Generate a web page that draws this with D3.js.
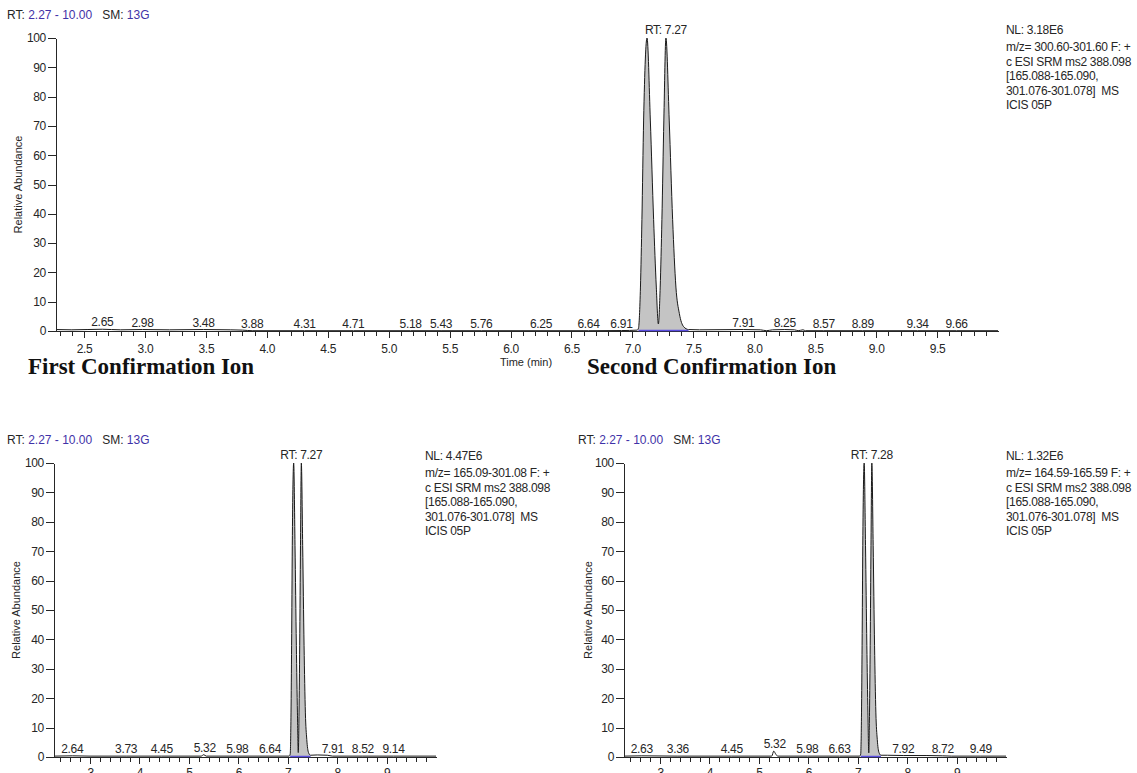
<!DOCTYPE html>
<html>
<head>
<meta charset="utf-8">
<script src="https://cdn.jsdelivr.net/npm/d3@7"></script>
<style>
  body { margin: 0; background: #fff; }
  svg { display: block; font-family: "Liberation Sans", Arial, sans-serif; }
</style>
</head>
<body>
<svg id="chart" width="1137" height="773"></svg>
<script>
// ---- values ----
const rtRange = '2.27 - 10.00';
const smoothing = '13G';
const timeDomain = [2.27, 10.0];
const yTicks = [0, 10, 20, 30, 40, 50, 60, 70, 80, 90, 100];
const topXTicks = [2.5, 3.0, 3.5, 4.0, 4.5, 5.0, 5.5, 6.0, 6.5, 7.0, 7.5, 8.0, 8.5, 9.0, 9.5];
const bottomXTicks = [3, 4, 5, 6, 7, 8, 9];

// [time (min), relative abundance %]
const topTrace = [
  [2.27, 0.5], [2.40, 0.4], [2.65, 0.6], [2.80, 0.4], [2.98, 0.5], [3.20, 0.4], [3.48, 0.5],
  [3.70, 0.4], [3.80, 0.3], [3.88, 0.1], [4.31, 0.1], [4.71, 0.1], [5.18, 0.1], [5.43, 0.1],
  [5.76, 0.1], [6.25, 0.1], [6.64, 0.1], [6.91, 0.15], [7.04, 0.3],
  [7.05, 1], [7.066, 15], [7.078, 38], [7.092, 72], [7.12, 100], [7.147, 72], [7.174, 38],
  [7.196, 15], [7.213, 2.4], [7.228, 15], [7.242, 38], [7.258, 72], [7.275, 100], [7.302, 72],
  [7.33, 38], [7.357, 15], [7.385, 6], [7.42, 1.5], [7.46, 0.5],
  [7.55, 0.4], [7.91, 0.5], [8.05, 0.4], [8.10, 0.1], [8.15, 0.4], [8.25, 0.5], [8.33, 0.4],
  [8.36, 0.1], [8.40, 0.4], [8.42, 0.1], [8.57, 0.1], [8.89, 0.1], [9.34, 0.1], [9.66, 0.1], [10.0, 0.1]
];
const bottomLeftTrace = [
  [2.27, 0.3], [2.64, 0.4], [3.00, 0.3], [3.73, 0.3], [4.45, 0.3], [5.25, 0.3], [5.30, 0.8],
  [5.35, 0.3], [5.98, 0.3], [6.64, 0.3], [7.03, 0.3],
  [7.05, 1], [7.066, 15], [7.078, 38], [7.092, 72], [7.12, 100], [7.147, 72], [7.174, 38],
  [7.196, 15], [7.213, 1.5], [7.228, 15], [7.242, 38], [7.258, 72], [7.275, 100], [7.302, 72],
  [7.33, 38], [7.357, 15], [7.385, 6], [7.42, 1.5], [7.46, 0.6],
  [7.60, 0.7], [7.80, 0.6], [7.91, 0.3], [8.52, 0.3], [9.14, 0.3], [10.0, 0.3]
];
const bottomRightTrace = [
  [2.27, 0.3], [2.63, 0.4], [3.36, 0.3], [4.45, 0.3], [5.26, 0.3], [5.30, 2.0], [5.34, 1.0],
  [5.38, 0.3], [5.98, 0.3], [6.63, 0.3], [7.04, 0.3],
  [7.06, 1], [7.076, 15], [7.088, 38], [7.102, 72], [7.13, 100], [7.157, 72], [7.184, 38],
  [7.206, 15], [7.223, 1.4], [7.238, 15], [7.252, 38], [7.268, 72], [7.285, 100], [7.312, 72],
  [7.34, 38], [7.367, 15], [7.395, 6], [7.43, 1.5], [7.47, 0.6],
  [7.60, 0.6], [7.92, 0.5], [8.40, 0.5], [8.72, 0.4], [8.90, 0.3], [9.49, 0.3], [10.0, 0.3]
];

const topPeakLabels = [2.65, 2.98, 3.48, 3.88, 4.31, 4.71, 5.18, 5.43, 5.76, 6.25, 6.64, 6.91, 7.91, 8.25, 8.57, 8.89, 9.34, 9.66];
const bottomLeftPeakLabels = [2.64, 3.73, 4.45, 5.32, 5.98, 6.64, 7.91, 8.52, 9.14];
const bottomRightPeakLabels = [2.63, 3.36, 4.45, 5.32, 5.98, 6.63, 7.92, 8.72, 9.49];

// integration limits of the main peak pair (purple baseline)
const topLimits = [7.05, 7.46];
const bottomLeftLimits = [7.05, 7.46];
const bottomRightLimits = [7.06, 7.47];

const topRT = 'RT: 7.27';
const bottomLeftRT = 'RT: 7.27';
const bottomRightRT = 'RT: 7.28';

const topInfo = ['NL: 3.18E6', 'm/z= 300.60-301.60 F: +', 'c ESI SRM ms2 388.098', '[165.088-165.090,', '301.076-301.078]  MS', 'ICIS 05P'];
const bottomLeftInfo = ['NL: 4.47E6', 'm/z= 165.09-301.08 F: +', 'c ESI SRM ms2 388.098', '[165.088-165.090,', '301.076-301.078]  MS', 'ICIS 05P'];
const bottomRightInfo = ['NL: 1.32E6', 'm/z= 164.59-165.59 F: +', 'c ESI SRM ms2 388.098', '[165.088-165.090,', '301.076-301.078]  MS', 'ICIS 05P'];

const svg = d3.select('#chart');
const ink = '#262626';
const purple = '#3f32a8';
const tight = '-0.3px';

function drawPanel(p) {
  const x = d3.scaleLinear().domain(timeDomain).range([p.left, p.right]);
  const y = d3.scaleLinear().domain([0, 100]).range([p.bottom, p.top]);
  const g = svg.append('g');

  // header
  const head = g.append('text').attr('x', p.hx).attr('y', p.hy)
    .attr('font-size', 12).attr('fill', ink).style('white-space', 'pre');
  head.append('tspan').text('RT: ');
  head.append('tspan').attr('fill', purple).text(rtRange);
  head.append('tspan').text('   SM: ');
  head.append('tspan').attr('fill', purple).text(smoothing);

  // filled peak between integration limits
  const inPeak = p.trace.filter(d => d[0] >= p.limits[0] && d[0] <= p.limits[1]);
  g.append('path')
    .datum(inPeak)
    .attr('fill', '#c4c4c4')
    .attr('d', d3.area().x(d => x(d[0])).y0(y(0)).y1(d => y(d[1])).curve(d3.curveMonotoneX));

  // trace
  g.append('path')
    .datum(p.trace)
    .attr('fill', 'none')
    .attr('stroke', '#1a1a1a')
    .attr('stroke-width', 1)
    .attr('d', d3.line().x(d => x(d[0])).y(d => y(d[1])).curve(d3.curveMonotoneX));

  // axes
  const yAxis = g.append('g').attr('transform', `translate(${p.left},0)`)
    .call(d3.axisLeft(y).tickValues(yTicks).tickSize(8).tickPadding(2).tickSizeOuter(0));
  const minor = g.append('g').attr('transform', `translate(0,${p.bottom})`)
    .call(d3.axisBottom(x).tickValues(p.minor).tickSize(5).tickFormat('').tickSizeOuter(0));
  const major = g.append('g').attr('transform', `translate(0,${p.bottom})`)
    .call(d3.axisBottom(x).tickValues(p.major).tickSize(7).tickPadding(p.labelPad)
      .tickFormat(p.fmt).tickSizeOuter(0));
  [yAxis, minor, major].forEach(a => {
    a.selectAll('path, line').attr('stroke', ink).attr('shape-rendering', 'crispEdges');
    a.selectAll('text').attr('fill', ink).attr('font-size', 12)
      .attr('letter-spacing', tight)
      .attr('font-family', '"Liberation Sans", Arial, sans-serif');
  });

  // integration baseline
  g.append('line')
    .attr('x1', x(p.limits[0])).attr('x2', x(p.limits[1]))
    .attr('y1', p.bottom - 0.5).attr('y2', p.bottom - 0.5)
    .attr('stroke', '#5a4de0').attr('stroke-width', 1.5);

  // small peak labels
  g.selectAll('.pk').data(p.labels).join('text')
    .attr('x', d => x(d))
    .attr('y', d => {
      const near = p.trace.filter(v => Math.abs(v[0] - d) < 0.05);
      const h = near.length ? d3.max(near, v => v[1]) : 0;
      return y(h) - 3;
    })
    .attr('text-anchor', 'middle').attr('font-size', 12).attr('fill', ink)
    .attr('letter-spacing', tight)
    .text(d => d.toFixed(2));

  // apex label
  const apex = p.trace.reduce((a, b) => (b[1] >= a[1] ? b : a));
  g.append('text').attr('x', x(apex[0])).attr('y', y(apex[1]) - 4)
    .attr('text-anchor', 'middle').attr('font-size', 12).attr('fill', ink)
    .attr('letter-spacing', tight).text(p.rt);

  // y title
  g.append('text')
    .attr('transform', `translate(${p.ytx},${(p.top + p.bottom) / 2}) rotate(-90)`)
    .attr('text-anchor', 'middle').attr('font-size', 11).attr('fill', ink)
    .text('Relative Abundance');

  // scan info block
  g.selectAll('.info').data(p.info).join('text')
    .attr('x', p.ix)
    .attr('y', (d, i) => p.iy + (i === 0 ? 0 : 3 + i * 14.4))
    .attr('font-size', 12).attr('fill', ink).attr('letter-spacing', tight)
    .style('white-space', 'pre')
    .text(d => d);
}

drawPanel({
  trace: topTrace, labels: topPeakLabels, limits: topLimits, rt: topRT, info: topInfo,
  left: 56, right: 998, top: 38, bottom: 331,
  hx: 7, hy: 19, ix: 1006, iy: 34, ytx: 22,
  minor: d3.range(23, 100).map(i => i / 10), major: topXTicks,
  fmt: d3.format('.1f'), labelPad: 6
});
drawPanel({
  trace: bottomLeftTrace, labels: bottomLeftPeakLabels, limits: bottomLeftLimits, rt: bottomLeftRT, info: bottomLeftInfo,
  left: 54, right: 436, top: 463, bottom: 757,
  hx: 7, hy: 444, ix: 425, iy: 460, ytx: 20,
  minor: d3.range(12, 50).map(i => i / 5), major: bottomXTicks,
  fmt: d3.format('d'), labelPad: 4
});
drawPanel({
  trace: bottomRightTrace, labels: bottomRightPeakLabels, limits: bottomRightLimits, rt: bottomRightRT, info: bottomRightInfo,
  left: 624, right: 1006, top: 463, bottom: 757,
  hx: 578, hy: 444, ix: 1006, iy: 460, ytx: 592,
  minor: d3.range(12, 50).map(i => i / 5), major: bottomXTicks,
  fmt: d3.format('d'), labelPad: 4
});

// captions and axis title
svg.append('text').attr('x', 526).attr('y', 366).attr('text-anchor', 'middle')
  .attr('font-size', 11).attr('fill', ink).text('Time (min)');
svg.append('text').attr('x', 28).attr('y', 374)
  .attr('font-family', '"Liberation Serif", "Times New Roman", serif')
  .attr('font-weight', 'bold').attr('font-size', 23).attr('fill', '#111')
  .text('First Confirmation Ion');
svg.append('text').attr('x', 587).attr('y', 374)
  .attr('font-family', '"Liberation Serif", "Times New Roman", serif')
  .attr('font-weight', 'bold').attr('font-size', 23).attr('fill', '#111')
  .text('Second Confirmation Ion');
</script>
</body>
</html>
